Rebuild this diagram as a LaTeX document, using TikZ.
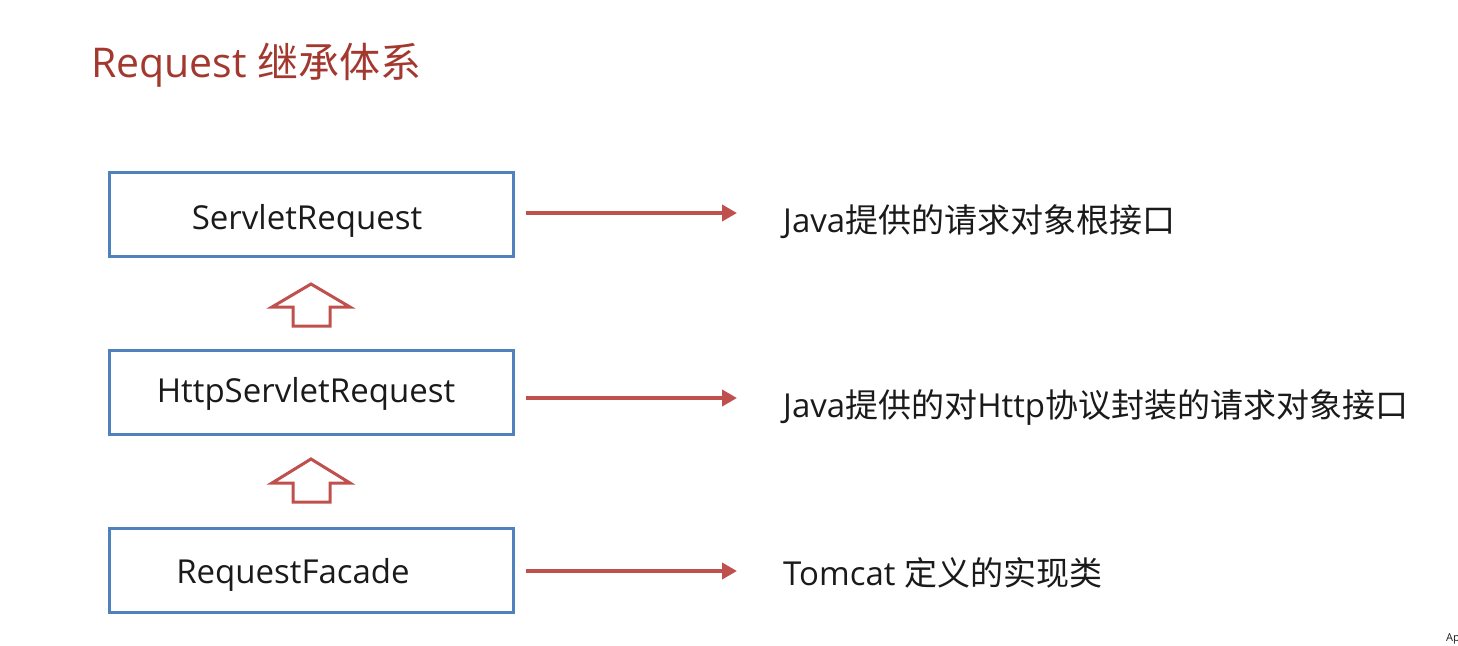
\documentclass[tikz,border=0pt]{standalone}
\usepackage{fontspec}
\setmainfont{Open Sans}
\newfontfamily\cjk{Noto Sans CJK SC}
\usetikzlibrary{arrows.meta}
\definecolor{boxblue}{HTML}{4F81BD}
\definecolor{arrred}{HTML}{C0504D}
\definecolor{titlered}{HTML}{A3382F}
\definecolor{txt}{HTML}{1A1A1A}
\tikzset{
  box/.style={draw=boxblue, line width=3pt, minimum width=404pt, minimum height=84pt, inner sep=0pt},
  boxlabel/.style={anchor=base, inner sep=0pt, text=txt, font=\fontsize{33}{40}\selectfont},
  desc/.style={anchor=base west, inner sep=0pt, text=txt, font=\fontsize{33}{40}\selectfont},
  relarrow/.style={draw=arrred, line width=4pt, -{Triangle[length=15pt,width=16pt]}},
  hollow/.style={draw=arrred, line width=3pt, fill=white, line join=miter}
}
\begin{document}
\begin{tikzpicture}[x=1pt,y=-1pt]
\useasboundingbox (0,0) rectangle (1458,645);
% title
\node[anchor=base west, inner sep=0pt, text=titlered, font=\fontsize{41}{49}\selectfont] (title) at (91,77) {Request {\cjk 继承体系}};
% boxes
\node[box] (b1) at (311,214) {};
\node[box] (b2) at (311,392) {};
\node[box] (b3) at (311,570) {};
\node[boxlabel] (l1) at (307,229) {ServletRequest};
\node[boxlabel] (l2) at (306,402) {HttpServletRequest};
\node[boxlabel] (l3) at (293,583) {RequestFacade};
% hollow inheritance arrows
\draw[hollow] (311,284) -- (350,307) -- (330,307) -- (330,326) -- (293,326) -- (293,307) -- (272,307) -- cycle;
\draw[hollow] (311,459) -- (350,483) -- (330,483) -- (330,502) -- (293,502) -- (293,483) -- (272,483) -- cycle;
% descriptions
\node[desc] (d1) at (783,232) {Java{\cjk 提供的请求对象根接口}};
\node[desc] (d2) at (783,417) {Java{\cjk 提供的对}Http{\cjk 协议封装的请求对象接口}};
\node[desc] (d3) at (783,585) {Tomcat {\cjk 定义的实现类}};
% connectors
\coordinate (s1) at (526,213); \coordinate (e1) at (737,213);
\coordinate (s2) at (526,398); \coordinate (e2) at (737,398);
\coordinate (s3) at (526,571); \coordinate (e3) at (737,571);
\draw[relarrow] (s1) -- (e1);
\draw[relarrow] (s2) -- (e2);
\draw[relarrow] (s3) -- (e3);
% corner fragment
\node[anchor=base west, inner sep=0pt, text=txt, font=\fontsize{11}{13}\selectfont] (ap) at (1446,641) {Ap};
\end{tikzpicture}
\end{document}
